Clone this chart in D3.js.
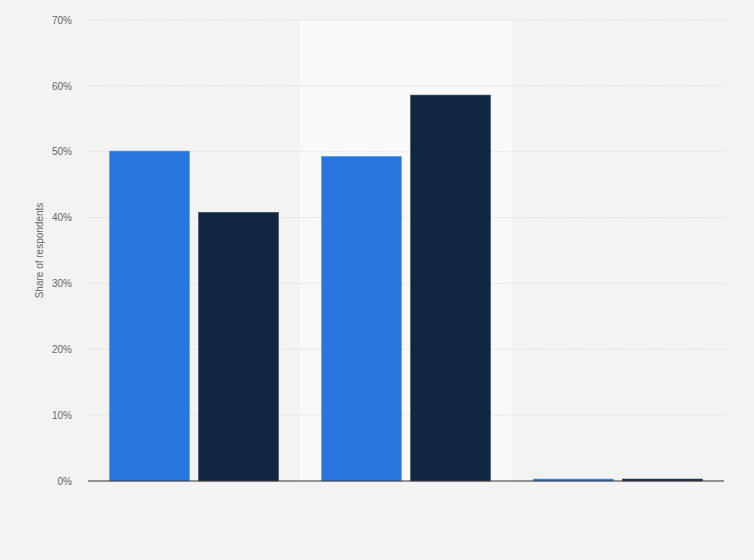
<!DOCTYPE html>
<html><head><meta charset="utf-8">
<script src="https://cdn.jsdelivr.net/npm/d3@7"></script>
<style>html,body{margin:0;padding:0;background:#f3f3f3;}svg{display:block;}</style>
</head><body>
<script>
const categories = ["Group A", "Group B", "Group C"];
const seriesNames = ["Series 1", "Series 2"];
const series1 = [50.1, 49.3, 0.3];
const series2 = [40.8, 58.6, 0.3];
const yTicks = [0, 10, 20, 30, 40, 50, 60, 70];
const colors = ["#2876dd", "#0f2740"];

const W = 754, H = 560;
const m = {left: 88, right: 30, top: 20, bottom: 79};
const FONT = "'Liberation Sans', Arial, sans-serif";
const svg = d3.select("body").append("svg").attr("width", W).attr("height", H);
svg.append("rect").attr("width", W).attr("height", H).attr("fill", "#f3f3f3");

const x0 = d3.scaleBand().domain(categories).range([m.left, W - m.right]).paddingInner(0).paddingOuter(0);
const x1 = d3.scaleBand().domain(seriesNames).range([0, x0.bandwidth()]).paddingInner(0.101).paddingOuter(0.2416);
const y = d3.scaleLinear().domain([0, 70]).range([H - m.bottom, m.top]);

// highlighted band
svg.append("rect").attr("x", x0(categories[1])).attr("y", y(70))
  .attr("width", x0.bandwidth()).attr("height", y(0) - y(70)).attr("fill", "#f9f9f9");

// tick labels
const yAxis = d3.axisLeft(y).tickValues(yTicks).tickFormat(d => d + "%").tickSize(0).tickPadding(16);
const gy = svg.append("g").attr("transform", `translate(${m.left},0)`).call(yAxis);
gy.select(".domain").remove();
gy.selectAll("text").attr("fill", "#666").style("font-family", FONT).style("font-size", "10px");

// gridlines
svg.append("g").selectAll("line").data(yTicks.filter(d => d > 0)).join("line")
  .attr("x1", m.left).attr("x2", W - m.right).attr("y1", d => y(d)).attr("y2", d => y(d))
  .attr("stroke", "#d2d2d2").attr("stroke-width", 1).attr("stroke-dasharray", "1,1.5");

// bars
const data = categories.map((c, i) => ({c, vals: [series1[i], series2[i]]}));
const g = svg.append("g").selectAll("g").data(data).join("g").attr("transform", d => `translate(${x0(d.c)},0)`);
g.selectAll("rect").data(d => d.vals.map((v, j) => ({v, s: seriesNames[j], j}))).join("rect")
  .attr("x", d => x1(d.s)).attr("width", x1.bandwidth())
  .attr("y", d => y(d.v)).attr("height", d => y(0) - y(d.v))
  .attr("fill", d => colors[d.j])
  .attr("stroke", d => d.j === 0 ? "#5a98e8" : "#3a4e63").attr("stroke-width", 0.6);

// baseline
svg.append("line").attr("x1", m.left).attr("x2", W - m.right).attr("y1", y(0)).attr("y2", y(0))
  .attr("stroke", "#333").attr("stroke-width", 1.2);

// y title
svg.append("text").attr("transform", `translate(43,${(y(0) + y(70)) / 2}) rotate(-90)`)
  .attr("text-anchor", "middle").attr("fill", "#666")
  .style("font-family", FONT).style("font-size", "10px")
  .text("Share of respondents");
</script>
</body></html>
